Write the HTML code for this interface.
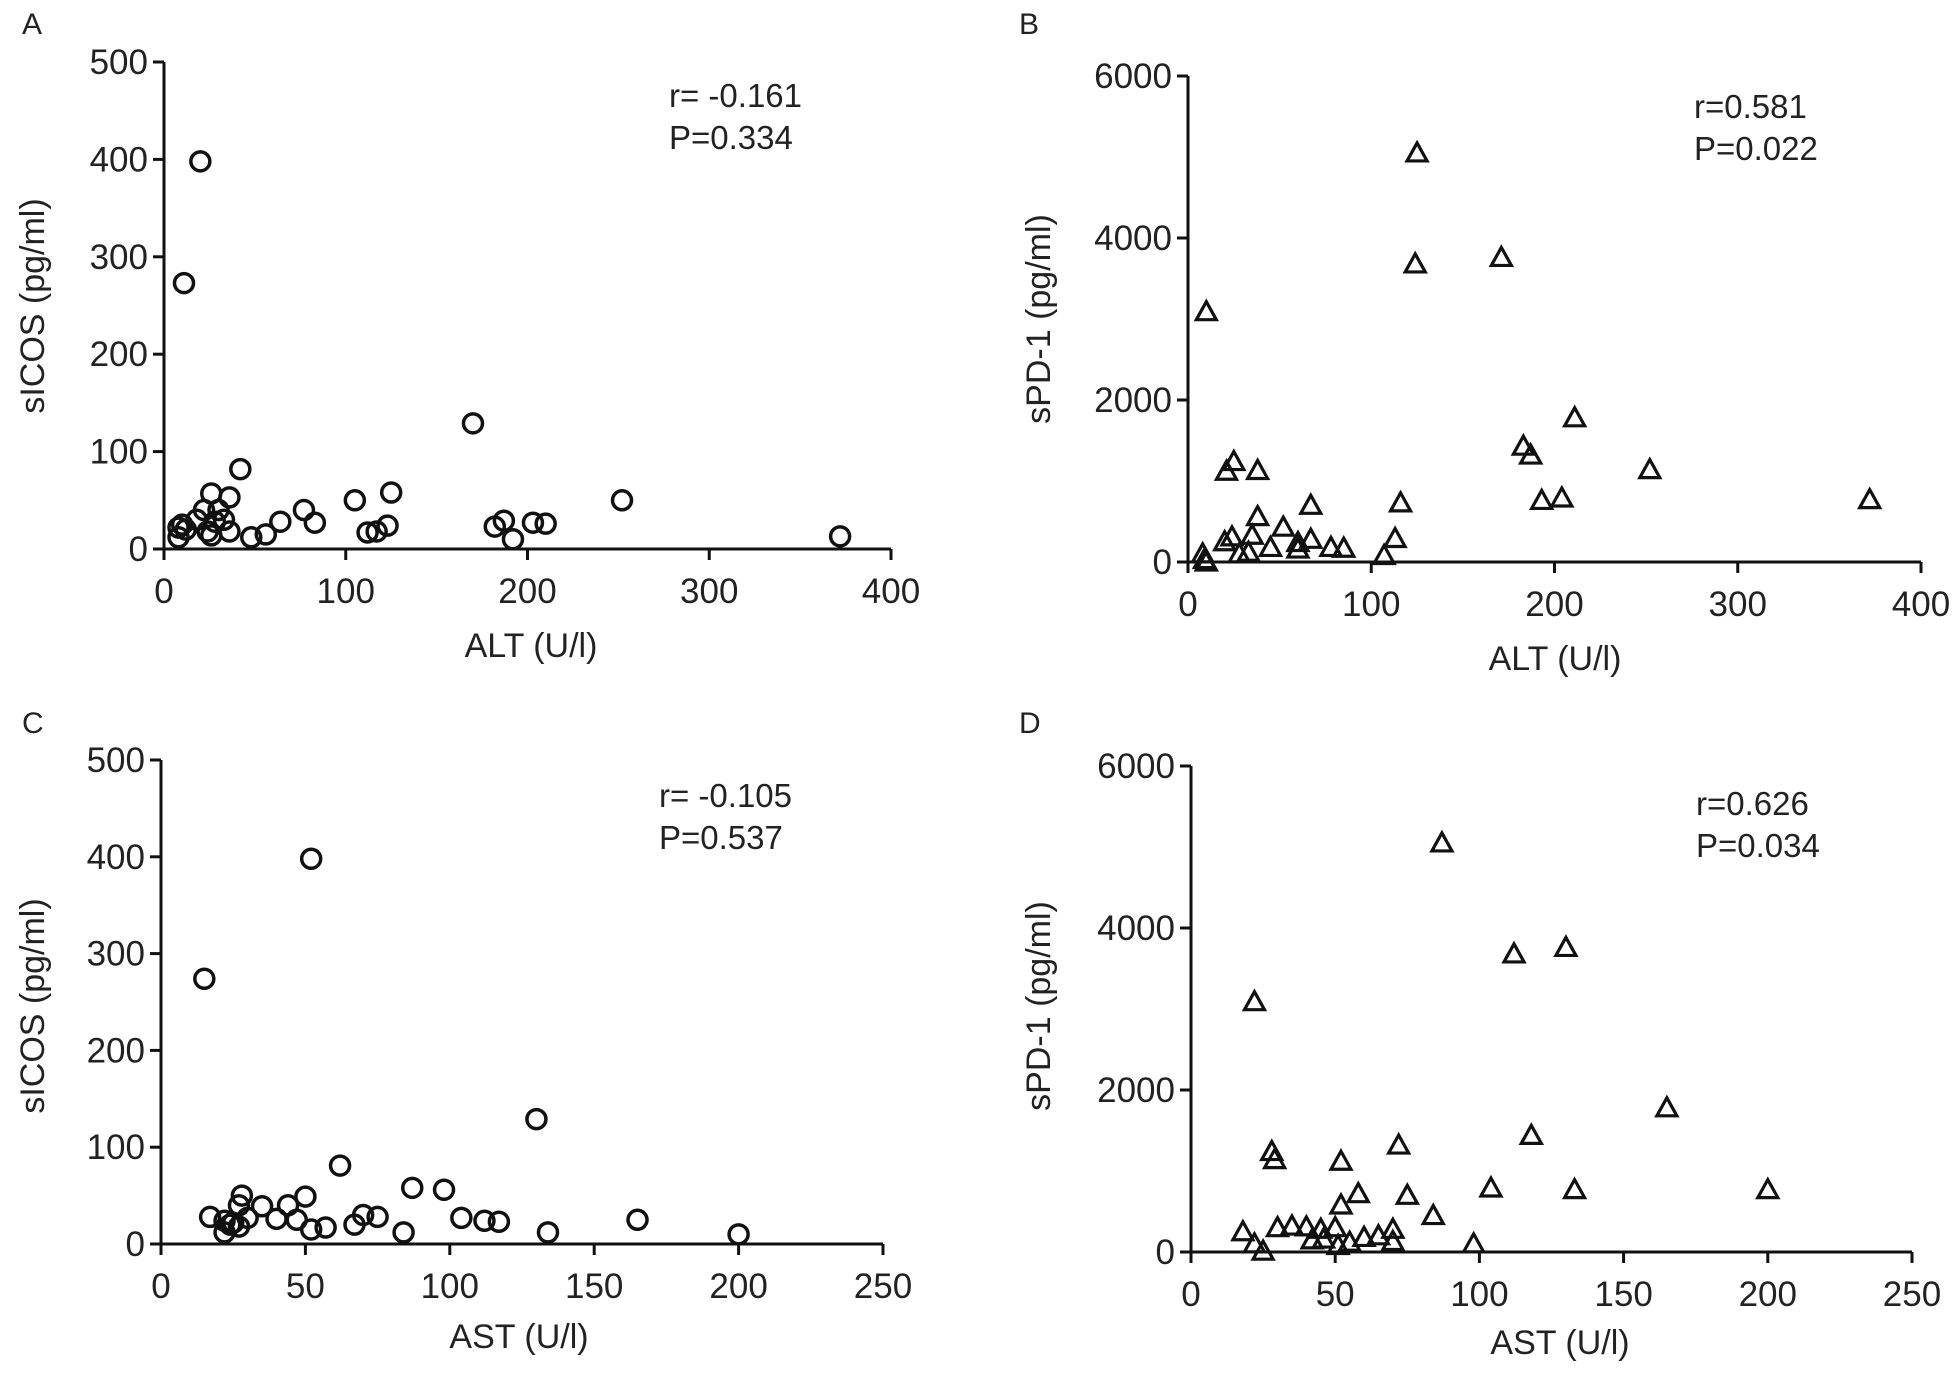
<!DOCTYPE html>
<html><head><meta charset="utf-8"><style>
html,body{margin:0;padding:0;background:#fff;}
svg text{font-family:"Liberation Sans",Arial,sans-serif;fill:#222;}
</style></head><body>
<svg id="fig" width="1960" height="1371" viewBox="0 0 1960 1371"></svg>
<script>
// Panel A: ALT vs sICOS
const altA = [20,11,170,42,26,36,125,105,252,77,22,30,18,28,33,8,10,24,36,64,83,123,182,187,203,210,112,117,48,56,192,372,8,26,12];
const icosA = [398,273,129,82,57,53,58,50,50,40,40,40,30,28,30,22,25,18,18,28,27,24,23,29,27,26,17,18,12,15,10,13,12,14,20];
// Panel B: ALT vs sPD-1
const altB = [125,124,171,10,211,183,187,252,25,21,38,67,116,193,204,372,38,52,113,24,35,20,60,67,78,85,45,33,28,60,107,8,9,10];
const pd1B = [5050,3680,3760,3090,1780,1430,1320,1140,1240,1120,1130,700,730,760,790,770,560,430,290,310,330,250,240,280,180,170,180,120,100,160,80,100,30,0];
// Panel C: AST vs sICOS
const astC = [52,15,130,62,87,98,28,50,27,44,35,17,22,30,40,47,70,75,67,104,112,117,165,24,27,52,57,22,84,134,200,25];
const icosC = [398,274,129,81,58,56,50,49,40,40,39,28,24,27,26,25,30,28,20,27,24,23,25,20,18,15,17,12,12,12,10,22];
// Panel D: AST vs sPD-1
const astD = [87,112,130,22,165,118,72,28,29,52,104,133,200,75,58,84,52,18,30,35,40,45,50,65,70,60,42,46,22,25,98,51,55,70];
const pd1D = [5050,3680,3760,3090,1780,1440,1320,1240,1140,1120,790,770,770,700,720,450,580,250,300,320,310,280,300,200,280,180,150,160,100,10,100,80,120,130];
// tick labels
const ticksAltX = [0,100,200,300,400];
const ticksAstX = [0,50,100,150,200,250];
const ticksIcosY = [0,100,200,300,400,500];
const ticksPd1Y = [0,2000,4000,6000];

const NS='http://www.w3.org/2000/svg';
const svg=document.getElementById('fig');
function mk(tag,attrs,parent){const e=document.createElementNS(NS,tag);for(const k in attrs)e.setAttribute(k,attrs[k]);(parent||svg).appendChild(e);return e;}

const panels=[
 {id:'a',letter:'A',lx:22,ly:34,x0:164,x1:891,y0:549,y1:62,xmax:400,ymax:500,xt:ticksAltX,yt:ticksIcosY,xs:altA,ys:icosA,m:'circle',xtitle:'ALT (U/l)',ytitle:'sICOS (pg/ml)',xtx:531,xty:657,ytx:44,yty:306,st:['r= -0.161','P=0.334'],sx:669,sy:107},
 {id:'b',letter:'B',lx:1019,ly:34,x0:1188,x1:1921,y0:562,y1:76,xmax:400,ymax:6000,xt:ticksAltX,yt:ticksPd1Y,xs:altB,ys:pd1B,m:'tri',xtitle:'ALT (U/l)',ytitle:'sPD-1 (pg/ml)',xtx:1555,xty:670,ytx:1050,yty:319,st:['r=0.581','P=0.022'],sx:1694,sy:118},
 {id:'c',letter:'C',lx:22,ly:733,x0:161,x1:883,y0:1244,y1:760,xmax:250,ymax:500,xt:ticksAstX,yt:ticksIcosY,xs:astC,ys:icosC,m:'circle',xtitle:'AST (U/l)',ytitle:'sICOS (pg/ml)',xtx:519,xty:1348,ytx:44,yty:1006,st:['r= -0.105','P=0.537'],sx:659,sy:807},
 {id:'d',letter:'D',lx:1019,ly:733,x0:1191,x1:1912,y0:1252,y1:766,xmax:250,ymax:6000,xt:ticksAstX,yt:ticksPd1Y,xs:astD,ys:pd1D,m:'tri',xtitle:'AST (U/l)',ytitle:'sPD-1 (pg/ml)',xtx:1560,xty:1354,ytx:1050,yty:1006,st:['r=0.626','P=0.034'],sx:1696,sy:815}
];

panels.forEach(p=>{
 const g=mk('g',{});
 
 
 const sx=v=>p.x0+(v/p.xmax)*(p.x1-p.x0);
 const sy=v=>p.y0-(v/p.ymax)*(p.y0-p.y1);
 const L=mk('text',{x:p.lx,y:p.ly,'font-size':30},g);L.textContent=p.letter;
 
 
 const ax=mk('path',{d:`M${p.x0} ${p.y1}V${p.y0}H${p.x1}`,stroke:'#111','stroke-width':3,fill:'none'},g);
 
 
 p.xt.forEach(v=>{const x=sx(v);mk('line',{x1:x,y1:p.y0,x2:x,y2:p.y0+11,stroke:'#111','stroke-width':3},g);
  const t=mk('text',{x:x,y:p.y0+54,'font-size':35,'text-anchor':'middle'},g);t.textContent=v;
  
  });
 p.yt.forEach(v=>{const y=sy(v);mk('line',{x1:p.x0-11,y1:y,x2:p.x0,y2:y,stroke:'#111','stroke-width':3},g);
  const t=mk('text',{x:p.x0-16,y:y+12,'font-size':35,'text-anchor':'end'},g);t.textContent=v;
  
  });
 const xt=mk('text',{x:p.xtx,y:p.xty,'font-size':34,'text-anchor':'middle'},g);xt.textContent=p.xtitle;
 
 
 const yt=mk('text',{x:0,y:0,'font-size':34,'text-anchor':'middle',transform:`translate(${p.ytx},${p.yty}) rotate(-90)`},g);yt.textContent=p.ytitle;
 
 
 p.st.forEach((s,i)=>{const t=mk('text',{x:p.sx,y:p.sy+i*42,'font-size':33},g);t.textContent=s;
  
  });
 p.xs.forEach((xv,i)=>{const x=sx(xv),y=sy(p.ys[i]);let e;
  if(p.m==='circle'){e=mk('circle',{cx:x,cy:y,r:9.5,fill:'none',stroke:'#111','stroke-width':3.5},g);}
  else{e=mk('path',{d:`M${x} ${y-10}L${x+10} ${y+8}L${x-10} ${y+8}Z`,fill:'none',stroke:'#111','stroke-width':3.2,'stroke-linejoin':'miter'},g);}
  
  });
});
</script>
</body></html>
